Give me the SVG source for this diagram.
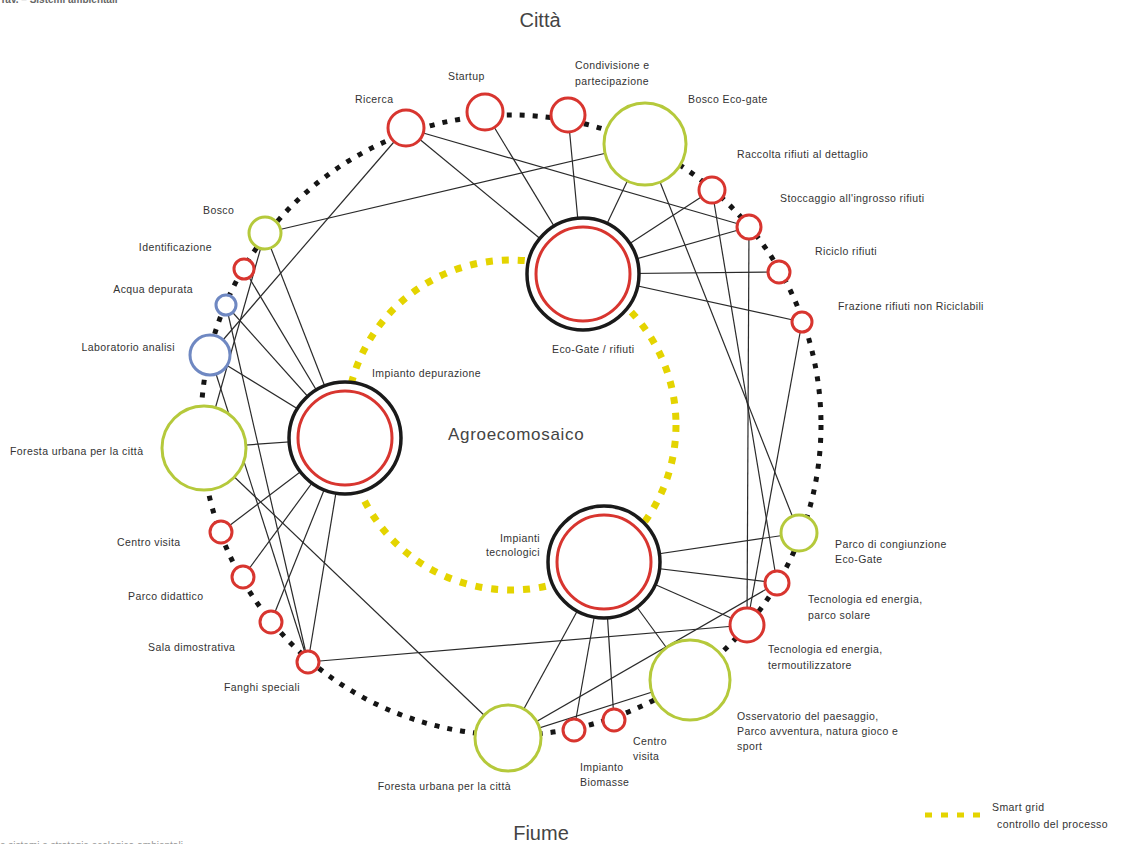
<svg xmlns="http://www.w3.org/2000/svg" width="1136" height="844" viewBox="0 0 1136 844">
<style>
.ring{fill:none;stroke:#151515;stroke-width:5;stroke-dasharray:5 8}
.grid{fill:none;stroke:#e4d400;stroke-width:7;stroke-dasharray:7 9}
.r{fill:#fff;stroke:#d8352f;stroke-width:3}
.g{fill:#fff;stroke:#b5c93b;stroke-width:3}
.b{fill:#fff;stroke:#6f88c2;stroke-width:3}
.ho{fill:#fff;stroke:#1a1a1a;stroke-width:3.5}
.hi{fill:none;stroke:#d8352f;stroke-width:3}
#connectors line{stroke:#2a2a2a;stroke-width:1.2}
text{font-family:"Liberation Sans",Arial,sans-serif;fill:#333}
.l{font-size:10.5px;letter-spacing:0.4px}
.t{font-size:20px;fill:#444}
.e{text-anchor:end}
</style>
<rect width="1136" height="844" fill="#fff"/>
<text x="0" y="3" style="font-size:10px;font-weight:bold;fill:#666">Tav. – Sistemi ambientali</text>
<text x="0" y="849" style="font-size:10px;fill:#999">e sistemi e strategie ecologico-ambientali</text>
<text class="t" x="540" y="27" text-anchor="middle">Città</text>
<text class="t" x="541" y="840" text-anchor="middle">Fiume</text>
<circle class="ring" cx="511" cy="425" r="310"/>
<circle class="grid" cx="511" cy="425" r="165"/>
<g id="connectors">
<line x1="406" y1="128" x2="583" y2="274"/>
<line x1="485" y1="112" x2="583" y2="274"/>
<line x1="568" y1="115" x2="583" y2="274"/>
<line x1="645" y1="144" x2="583" y2="274"/>
<line x1="712" y1="190" x2="583" y2="274"/>
<line x1="749" y1="227" x2="583" y2="274"/>
<line x1="779" y1="272" x2="583" y2="274"/>
<line x1="802" y1="322" x2="583" y2="274"/>
<line x1="406" y1="128" x2="749" y2="227"/>
<line x1="645" y1="144" x2="799" y2="533"/>
<line x1="645" y1="144" x2="265" y2="233"/>
<line x1="712" y1="190" x2="777" y2="583"/>
<line x1="749" y1="227" x2="747" y2="625"/>
<line x1="802" y1="322" x2="747" y2="625"/>
<line x1="265" y1="233" x2="345" y2="438"/>
<line x1="244" y1="269" x2="345" y2="438"/>
<line x1="226" y1="305" x2="345" y2="438"/>
<line x1="210" y1="355" x2="345" y2="438"/>
<line x1="204" y1="448" x2="345" y2="438"/>
<line x1="221" y1="532" x2="345" y2="438"/>
<line x1="243" y1="577" x2="345" y2="438"/>
<line x1="271" y1="622" x2="345" y2="438"/>
<line x1="308" y1="662" x2="345" y2="438"/>
<line x1="210" y1="355" x2="406" y2="128"/>
<line x1="226" y1="305" x2="308" y2="662"/>
<line x1="210" y1="355" x2="308" y2="662"/>
<line x1="265" y1="233" x2="204" y2="448"/>
<line x1="204" y1="448" x2="508" y2="738"/>
<line x1="308" y1="662" x2="747" y2="625"/>
<line x1="604" y1="562" x2="799" y2="533"/>
<line x1="604" y1="562" x2="777" y2="583"/>
<line x1="604" y1="562" x2="747" y2="625"/>
<line x1="604" y1="562" x2="690" y2="680"/>
<line x1="604" y1="562" x2="614" y2="720"/>
<line x1="604" y1="562" x2="574" y2="730"/>
<line x1="604" y1="562" x2="508" y2="738"/>
<line x1="508" y1="738" x2="777" y2="583"/>
<line x1="508" y1="738" x2="690" y2="680"/>
</g>
<g id="hub-ecogate"><circle class="ho" cx="583" cy="274" r="56"/><circle class="hi" cx="583" cy="274" r="47"/><text class="l" x="552" y="353">Eco-Gate / rifiuti</text></g>
<g id="hub-depurazione"><circle class="ho" cx="345" cy="438" r="56"/><circle class="hi" cx="345" cy="438" r="47"/><text class="l" x="372" y="377">Impianto depurazione</text></g>
<g id="hub-impianti"><circle class="ho" cx="604" cy="562" r="56"/><circle class="hi" cx="604" cy="562" r="47"/><text class="l e" x="540" y="542">Impianti</text><text class="l e" x="540" y="556">tecnologici</text></g>
<g id="label-agro"><text x="448" y="440" style="font-size:17px;letter-spacing:0.7px;fill:#444">Agroecomosaico</text></g>
<g id="n-ricerca"><circle class="r" cx="406" cy="128" r="18"/><text class="l" x="355" y="103">Ricerca</text></g>
<g id="n-startup"><circle class="r" cx="485" cy="112" r="18"/><text class="l" x="448" y="80">Startup</text></g>
<g id="n-condivisione"><circle class="r" cx="568" cy="115" r="17"/><text class="l" x="575" y="69">Condivisione e</text><text class="l" x="575" y="85">partecipazione</text></g>
<g id="n-boscoeco"><circle class="g" cx="645" cy="144" r="41"/><text class="l" x="688" y="103">Bosco Eco-gate</text></g>
<g id="n-raccolta"><circle class="r" cx="712" cy="190" r="13"/><text class="l" x="737" y="158">Raccolta rifiuti al dettaglio</text></g>
<g id="n-stoccaggio"><circle class="r" cx="749" cy="227" r="12"/><text class="l" x="780" y="202">Stoccaggio all'ingrosso rifiuti</text></g>
<g id="n-riciclo"><circle class="r" cx="779" cy="272" r="11"/><text class="l" x="815" y="255">Riciclo rifiuti</text></g>
<g id="n-frazione"><circle class="r" cx="802" cy="322" r="10"/><text class="l" x="838" y="310">Frazione rifiuti non Riciclabili</text></g>
<g id="n-bosco"><circle class="g" cx="265" cy="233" r="16"/><text class="l" x="203" y="214">Bosco</text></g>
<g id="n-identificazione"><circle class="r" cx="244" cy="269" r="10"/><text class="l e" x="212" y="251">Identificazione</text></g>
<g id="n-acqua"><circle class="b" cx="226" cy="305" r="10"/><text class="l e" x="193" y="293">Acqua depurata</text></g>
<g id="n-laboratorio"><circle class="b" cx="210" cy="355" r="20"/><text class="l e" x="175" y="351">Laboratorio analisi</text></g>
<g id="n-foresta-urbana"><circle class="g" cx="204" cy="448" r="42"/><text class="l" x="10" y="455">Foresta urbana per la città</text></g>
<g id="n-centro-visita-l"><circle class="r" cx="221" cy="532" r="11"/><text class="l" x="117" y="546">Centro visita</text></g>
<g id="n-parco-didattico"><circle class="r" cx="243" cy="577" r="11"/><text class="l" x="128" y="600">Parco didattico</text></g>
<g id="n-sala"><circle class="r" cx="271" cy="622" r="11"/><text class="l" x="148" y="651">Sala dimostrativa</text></g>
<g id="n-fanghi"><circle class="r" cx="308" cy="662" r="11"/><text class="l e" x="300" y="691">Fanghi speciali</text></g>
<g id="n-parco-congiunzione"><circle class="g" cx="799" cy="533" r="18"/><text class="l" x="835" y="548">Parco di congiunzione</text><text class="l" x="835" y="563">Eco-Gate</text></g>
<g id="n-solare"><circle class="r" cx="777" cy="583" r="12"/><text class="l" x="808" y="603">Tecnologia ed energia,</text><text class="l" x="808" y="619">parco solare</text></g>
<g id="n-termo"><circle class="r" cx="747" cy="625" r="17"/><text class="l" x="768" y="653">Tecnologia ed energia,</text><text class="l" x="768" y="669">termoutilizzatore</text></g>
<g id="n-osservatorio"><circle class="g" cx="690" cy="680" r="40"/><text class="l" x="737" y="720">Osservatorio del paesaggio,</text><text class="l" x="737" y="735">Parco avventura, natura gioco e</text><text class="l" x="737" y="750">sport</text></g>
<g id="n-centro-visita-b"><circle class="r" cx="614" cy="720" r="11"/><text class="l" x="633" y="745">Centro</text><text class="l" x="633" y="760">visita</text></g>
<g id="n-biomasse"><circle class="r" cx="574" cy="730" r="11"/><text class="l" x="580" y="771">Impianto</text><text class="l" x="580" y="786">Biomasse</text></g>
<g id="n-foresta-b"><circle class="g" cx="508" cy="738" r="33"/><text class="l e" x="511" y="790">Foresta urbana per la città</text></g>
<g id="legend"><line x1="925" y1="815" x2="985" y2="815" style="stroke:#e4d400;stroke-width:5;stroke-dasharray:7 9"/><text class="l" x="992" y="811">Smart grid</text><text class="l" x="997" y="828">controllo del processo</text></g>
</svg>
